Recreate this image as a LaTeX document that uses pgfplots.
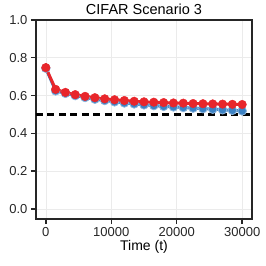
\documentclass[border=0pt]{standalone}
\usepackage{fontspec}
\setmainfont{Liberation Sans}
\usepackage{pgfplots}
\pgfplotsset{compat=1.18}
\definecolor{myred}{HTML}{E8262B}
\definecolor{myblue}{HTML}{3C82C4}
\definecolor{spine}{HTML}{262626}
\begin{document}
\begin{tikzpicture}
\begin{axis}[
  scale only axis,
  width=216pt, height=199pt,
  xmin=-1500, xmax=31500,
  ymin=-0.053, ymax=1.0,
  xtick={0,10000,20000,30000},
  ytick={0,0.2,0.4,0.6,0.8,1.0},
  yticklabel style={/pgf/number format/fixed,/pgf/number format/fixed zerofill,/pgf/number format/precision=1},
  xticklabel style={/pgf/number format/fixed,/pgf/number format/1000 sep={}},
  scaled x ticks=false,
  /pgf/number format/assume math mode=true,
  tick label style={font=\fontsize{13}{15}\selectfont, text=spine},
  label style={font=\fontsize{14}{16}\selectfont},
  title style={font=\fontsize{14.5}{16}\selectfont, yshift=-4pt},
  title={CIFAR Scenario 3},
  xlabel={Time (t)},
  xlabel style={yshift=3pt},
  axis line style={spine, line width=1.8pt},
  tick style={spine, line width=1.4pt},
  tick align=outside,
  major tick length=5pt,
  xtick pos=bottom, ytick pos=left,
  grid=major,
  grid style={black!8, line width=0.6pt},
  clip=false,
]
\addplot[black, line width=2.2pt, dash pattern=on 7pt off 4.5pt, forget plot] coordinates {(-1500,0.5) (31500,0.5)};
\addplot[myblue, line width=3pt, mark=*, mark size=4.3pt, mark options={fill=myblue, draw=myblue!60!white, line width=0.8pt}] coordinates {
(0,0.745) (1500,0.625) (3000,0.612) (4500,0.600) (6000,0.590) (7500,0.581) (9000,0.574) (10500,0.567) (12000,0.561) (13500,0.556) (15000,0.551) (16500,0.547) (18000,0.543) (19500,0.540) (21000,0.537) (22500,0.534) (24000,0.531) (25500,0.528) (27000,0.525) (28500,0.522) (30000,0.519)
};
\addplot[myred, line width=3pt, mark=*, mark size=4.3pt, mark options={fill=myred, draw=myred, line width=0.4pt},
  error bars/.cd, y dir=both, y explicit, error bar style={myred, line width=1.6pt}, error mark=none] coordinates {
(0,0.748) +- (0,0.025) (1500,0.633) (3000,0.617) (4500,0.605) (6000,0.596) (7500,0.589) (9000,0.583) (10500,0.578) (12000,0.574) (13500,0.570) (15000,0.567) (16500,0.565) (18000,0.563) (19500,0.561) (21000,0.560) (22500,0.558) (24000,0.557) (25500,0.556) (27000,0.555) (28500,0.554) (30000,0.553)
};
\end{axis}
\pgfresetboundingbox
\path (current axis.south west) ++(-36pt,-47pt) rectangle ++(266pt,266pt);
\end{tikzpicture}
\end{document}
